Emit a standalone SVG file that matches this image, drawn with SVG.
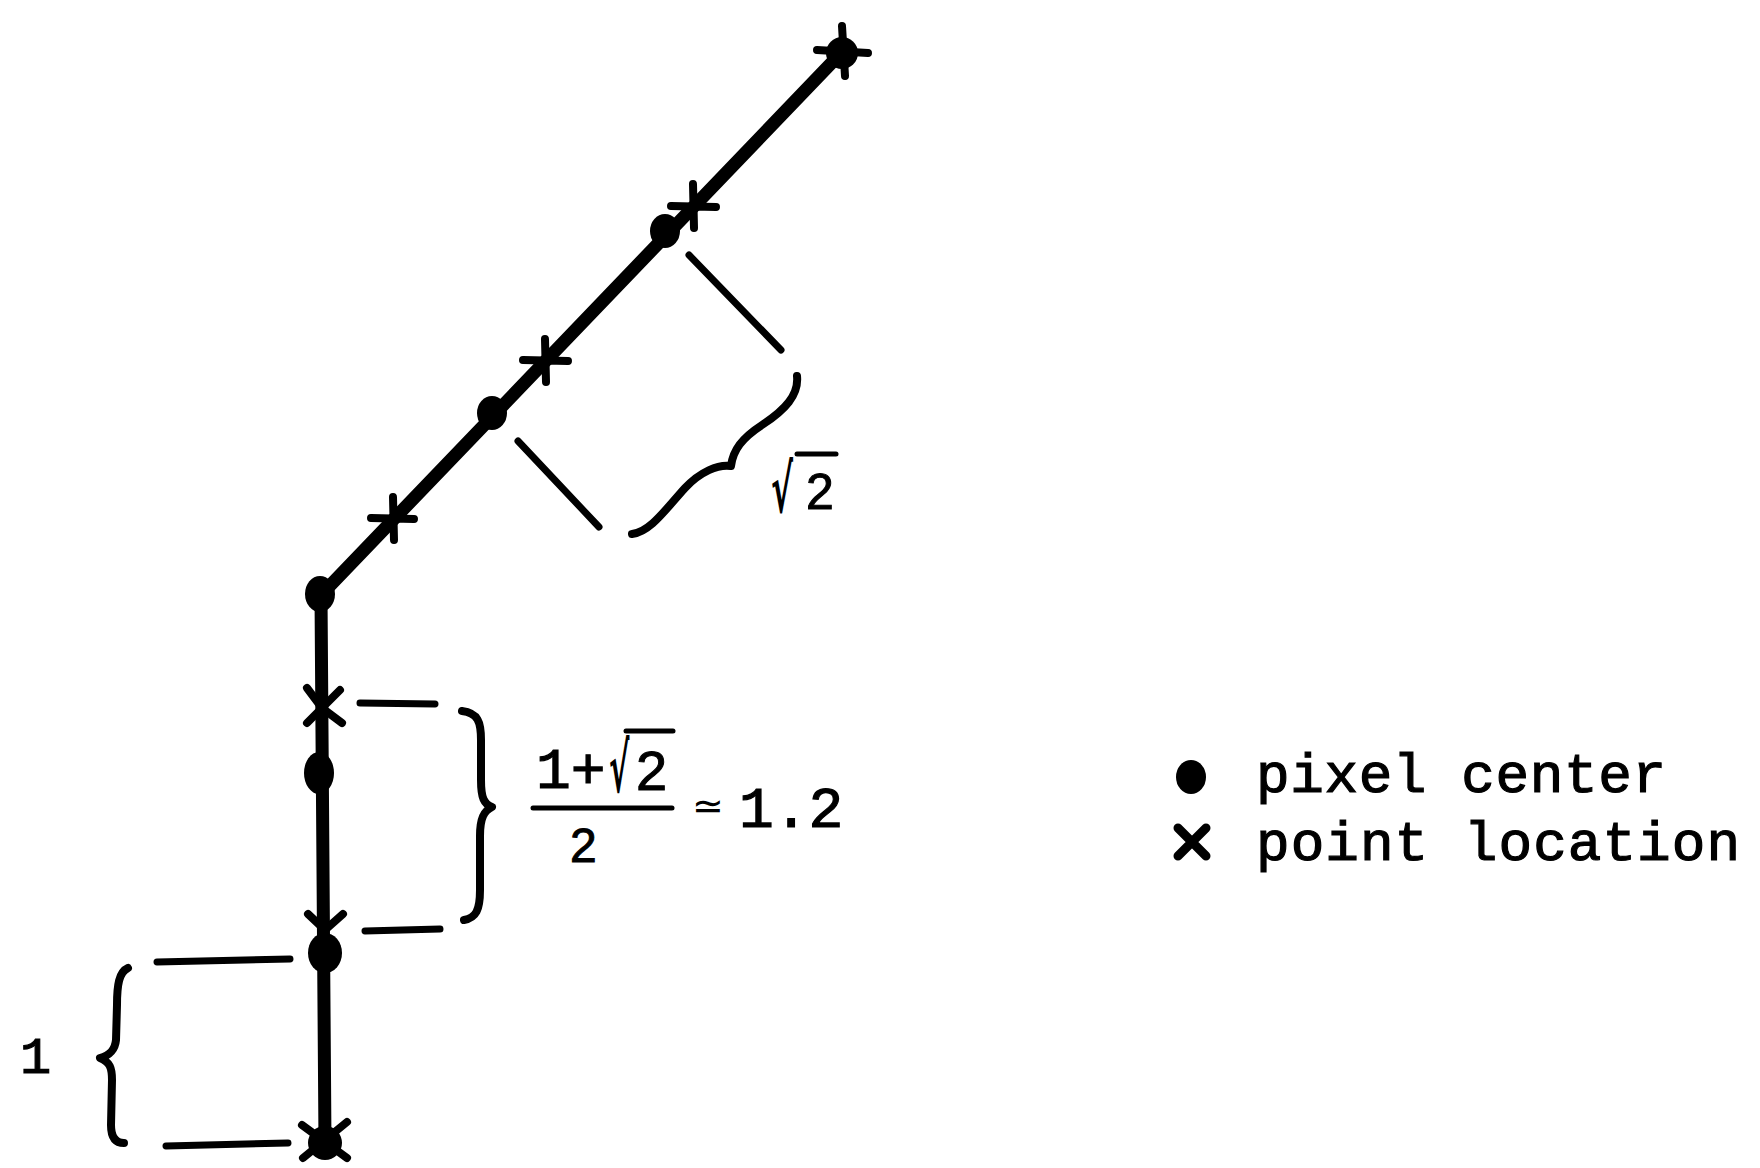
<svg xmlns="http://www.w3.org/2000/svg" width="1760" height="1168" viewBox="0 0 1760 1168">
<style>
.ln{fill:none;stroke:#000;stroke-linecap:round;stroke-linejoin:round}
.main{stroke-width:13}
.arm{stroke-width:8}
.tick{stroke-width:7}
.brace{stroke-width:8}
.dot{fill:#000}
.mono{font-family:"Liberation Mono","DejaVu Sans Mono",monospace;fill:#000;stroke:#000;stroke-width:1.2}
.sans{font-family:"Liberation Sans","DejaVu Sans",sans-serif;fill:#000;stroke:#000;stroke-width:1}
.sym{font-family:"DejaVu Sans","Liberation Sans",sans-serif;fill:#000}
</style>
<rect width="1760" height="1168" fill="#fff"/>
<g id="connectors">
  <polyline class="ln main" points="842,52 321,595 325,1143"/>
</g>
<g id="top-end">
  <circle class="dot" cx="842" cy="53" r="16"/>
  <path class="ln arm" d="M842 26 L845 76 M817 50 L868 53"/>
</g>
<g id="diag-marks">
  <path class="ln arm" d="M693 184 L694 228 M671 206 L716 207"/>
  <ellipse class="dot" cx="665" cy="231" rx="15" ry="17"/>
  <path class="ln arm" d="M545 339 L546 382 M523 360 L568 361"/>
  <ellipse class="dot" cx="492" cy="413" rx="15" ry="17"/>
  <path class="ln arm" d="M393 497 L394 540 M371 518 L414 519"/>
  <ellipse class="dot" cx="320" cy="594" rx="15" ry="18"/>
</g>
<g id="vert-marks">
  <path class="ln arm" d="M307 688 L322 708 L340 690 M307 723 L322 708 L342 723"/>
  <ellipse class="dot" cx="319" cy="773" rx="15" ry="21"/>
  <path class="ln arm" d="M308 914 L325 930 L343 914"/>
  <ellipse class="dot" cx="325" cy="953" rx="17" ry="20"/>
</g>
<g id="bottom-end">
  <circle class="dot" cx="325" cy="1143" r="17"/>
  <path class="ln arm" d="M302 1125 L347 1158 M347 1122 L303 1158"/>
</g>
<g id="dim-sqrt2">
  <path class="ln tick" d="M689 255 L781 350"/>
  <path class="ln tick" d="M518 441 L599 527"/>
  <path class="ln brace" d="M797 376 C799 395 785 410 762 425 C742 438 733 450 731 466 C718 464 700 472 685 488 C665 510 650 532 632 534"/>
  <text class="sym" x="771" y="512" font-size="66" font-weight="bold" transform="translate(771 0) scale(0.5 1) translate(-771 0)">√</text>
  <line class="ln" x1="797" y1="454" x2="836" y2="454" stroke-width="5"/>
  <text class="sans" x="806" y="509" font-size="50">2</text>
</g>
<g id="dim-vertical">
  <path class="ln tick" d="M360 703 L435 704"/>
  <path class="ln tick" d="M365 931 L440 929"/>
  <path class="ln brace" d="M462 711 C478 713 481 722 481 740 L481 780 C481 798 484 804 492 807 C484 811 480 818 480 836 L480 890 C480 910 476 918 464 920"/>
  <text class="mono" x="536" y="788" font-size="58">1+</text>
  <text class="sym" x="609" y="792" font-size="68" font-weight="bold" transform="translate(609 0) scale(0.45 1) translate(-609 0)">√</text>
  <line class="ln" x1="626" y1="731" x2="673" y2="731" stroke-width="5"/>
  <text class="sans" x="636" y="790" font-size="56">2</text>
  <line class="ln" x1="533" y1="808" x2="672" y2="808" stroke-width="5"/>
  <text class="sans" x="570" y="862" font-size="48">2</text>
  <text class="sym" x="692" y="819" font-size="38">≃</text>
  <text class="mono" x="739" y="827" font-size="58">1.2</text>
</g>
<g id="dim-one">
  <path class="ln tick" d="M157 962 L290 959"/>
  <path class="ln tick" d="M166 1146 L288 1143"/>
  <path class="ln brace" d="M128 968 C119 972 117 985 117 1005 L116 1040 C115 1050 110 1055 100 1058 C110 1062 112 1068 112 1080 L111 1125 C111 1138 116 1143 124 1143"/>
  <text class="mono" x="20" y="1073" font-size="52">1</text>
</g>
<g id="legend">
  <ellipse class="dot" cx="1191" cy="777" rx="15" ry="17"/>
  <path class="ln" stroke-width="9" d="M1178 828 L1206 856 M1206 828 L1178 856"/>
  <text class="mono" x="1256" y="792" font-size="56" textLength="410" lengthAdjust="spacing">pixel center</text>
  <text class="mono" x="1256" y="860" font-size="56" textLength="484" lengthAdjust="spacing">point location</text>
</g>
</svg>
